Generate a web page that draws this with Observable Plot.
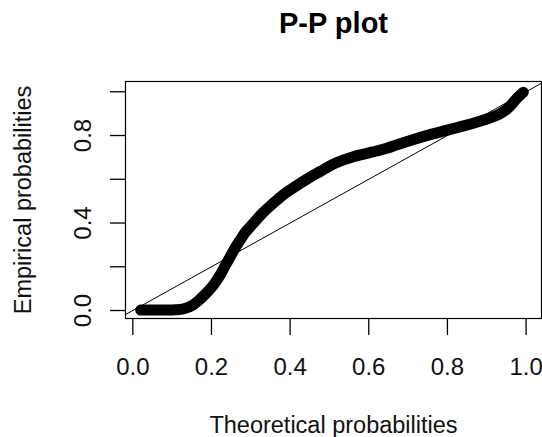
<!DOCTYPE html>
<html>
<head>
<meta charset="utf-8">
<script src="https://cdn.jsdelivr.net/npm/d3@7"></script>
<script src="https://cdn.jsdelivr.net/npm/@observablehq/plot@0.6"></script>
<style>
  html, body { margin: 0; padding: 0; background: #fff; }
  #chart svg { display: block; }
</style>
</head>
<body>
<div id="chart"></div>
<script>
// Data
const theoretical = [0.02, 0.05, 0.08, 0.108, 0.13, 0.151, 0.17, 0.185, 0.2, 0.21, 0.223, 0.235, 0.248, 0.261, 0.274, 0.286, 0.3, 0.312, 0.328, 0.345, 0.367, 0.388, 0.41, 0.434, 0.455, 0.477, 0.498, 0.519, 0.54, 0.561, 0.585, 0.61, 0.646, 0.672, 0.714, 0.756, 0.8, 0.841, 0.876, 0.909, 0.932, 0.951, 0.965, 0.976, 0.986, 0.993];
const empirical   = [0.002, 0.002, 0.002, 0.003, 0.008, 0.023, 0.05, 0.076, 0.105, 0.129, 0.165, 0.205, 0.247, 0.289, 0.325, 0.357, 0.386, 0.41, 0.442, 0.471, 0.506, 0.537, 0.563, 0.591, 0.614, 0.636, 0.658, 0.677, 0.691, 0.703, 0.714, 0.725, 0.742, 0.758, 0.782, 0.804, 0.825, 0.844, 0.862, 0.881, 0.898, 0.92, 0.946, 0.969, 0.986, 0.998];
const identityLine = [-0.1, 1.1];          // y = x reference line, clipped to the frame
const xTicks = [0, 0.2, 0.4, 0.6, 0.8, 1.0];
const yTicks = [0, 0.2, 0.4, 0.6, 0.8, 1.0];
const yLabelTicks = [0, 0.4, 0.8];
const titleText = "P-P plot";
const xTitle = "Theoretical probabilities";
const yTitle = "Empirical probabilities";

const points = theoretical.map((t, i) => ({t, e: empirical[i]}));
const font = "'Liberation Sans', Arial, sans-serif";
const fmt = d3.format(".1f");

const chart = Plot.plot({
  width: 542,
  height: 437,
  marginLeft: 125,
  marginRight: 1,
  marginTop: 81,
  marginBottom: 119,
  style: {fontFamily: font, background: "#fff", color: "#000"},
  x: {domain: [-0.0186, 1.0392], axis: null},
  y: {domain: [-0.0365, 1.047], axis: null},
  marks: [
    Plot.line(identityLine, {x: d => d, y: d => d, stroke: "#000", strokeWidth: 1, clip: true}),
    Plot.line(points, {x: "t", y: "e", stroke: "#000", strokeWidth: 11, strokeLinecap: "round", strokeLinejoin: "round", curve: "catmull-rom"}),
    Plot.frame({stroke: "#000", strokeWidth: 1.2}),
    Plot.axisX(xTicks, {tickSize: 17, tickPadding: 22, tickFormat: fmt, fontSize: 24, stroke: "#000", strokeWidth: 1.3, fill: "#111", label: null}),
    Plot.axisY(yTicks, {tickSize: 15, tickFormat: () => "", stroke: "#000", strokeWidth: 1.3, label: null}),
    Plot.text(yLabelTicks, {frameAnchor: "left", y: d => d, text: d => fmt(d), rotate: -90, lineAnchor: "bottom", textAnchor: "middle", dx: -35, fontSize: 24, fill: "#111"}),
    Plot.text([yTitle], {frameAnchor: "left", text: d => d, rotate: -90, lineAnchor: "bottom", textAnchor: "middle", dx: -95, fontSize: 23.5, fill: "#111"}),
    Plot.text([xTitle], {frameAnchor: "bottom", text: d => d, lineAnchor: "bottom", dy: 114, fontSize: 23.5, fill: "#111"}),
    Plot.text([titleText], {frameAnchor: "top", text: d => d, lineAnchor: "bottom", dy: -49, fontSize: 29, fontWeight: "bold", fill: "#000"})
  ]
});
document.getElementById("chart").appendChild(chart);
</script>
</body>
</html>
